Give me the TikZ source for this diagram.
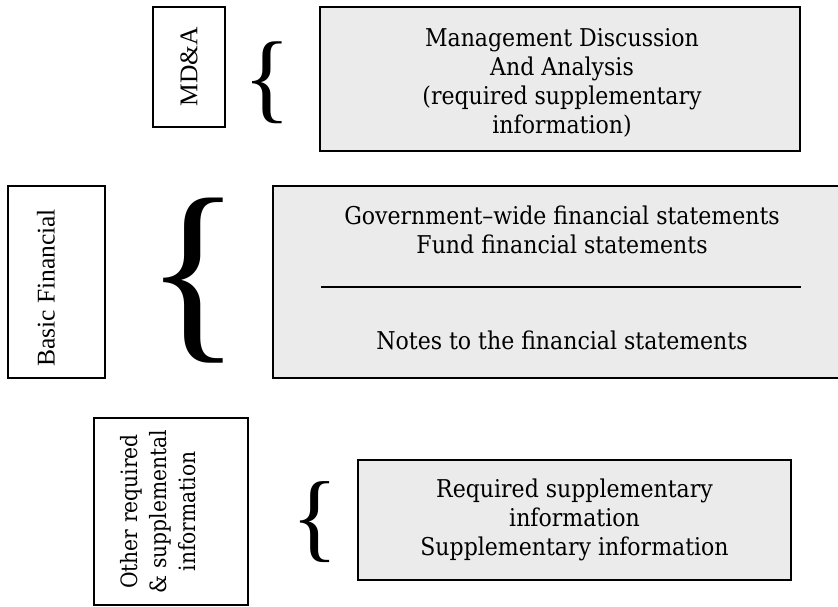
\documentclass[tikz,border=0pt]{standalone}
\usepackage{fontspec}
\setmainfont{DejaVu Serif Condensed}
\newfontfamily\timesfont{Liberation Serif}
\usepackage{xcolor}
\usepackage{graphicx}
\usetikzlibrary{positioning}
\definecolor{panelgray}{HTML}{EBEBEB}

\begin{document}
\begin{tikzpicture}[x=1pt, y=-1pt,
    tagbox/.style = {draw, line width=1.8pt, inner sep=0pt},
    panel/.style = {draw, line width=1.8pt, fill=panelgray, inner sep=0pt},
    tagtext/.style = {rotate=90, align=center, inner sep=0pt},
    timestext/.style = {font=\timesfont\fontsize{25.5}{29}\selectfont},
    paneltext/.style = {align=center, inner sep=0pt, font=\fontsize{24.5}{29}\selectfont},
    curly/.style = {inner sep=0pt}
  ]
    \useasboundingbox (0,0) rectangle (838,607);
    % top row
    \node (mda) [tagbox, minimum width=72pt, minimum height=120pt] at (189,67) {};
    \node (mdatag) [tagtext, timestext] at (mda.center) {MD\&A};
    \node (mdabrace) [curly] at (267.5,83) {\resizebox*{!}{82pt}{\timesfont\{}};
    \node (mdapanel) [panel, minimum width=480pt, minimum height=144pt] at (560,79) {};
    \node (mdatext) [paneltext] at (562,83) {Management Discussion\\And Analysis\\(required supplementary\\information)};
    % middle row
    \node (basic) [tagbox, minimum width=97pt, minimum height=192pt] at (56.5,282) {};
    \node (basictag) [tagtext, timestext] at (46,288) {Basic Financial};
    \node (basicbrace) [curly] at (193.5,280.5) {\resizebox*{!}{165pt}{\timesfont\{}};
    \node (basicpanel) [panel, minimum width=579pt, minimum height=192pt] at (562.5,282) {};
    \node (stmttext) [paneltext] at (562,230) {Government–wide financial statements\\Fund financial statements};
    \coordinate (ruleW) at (321,287);
    \coordinate (ruleE) at (801,287);
    \draw [line width=1.5pt] (ruleW) -- (ruleE);
    \node (notestext) [paneltext] at (562,340) {Notes to the financial statements};
    % bottom row
    \node (other) [tagbox, minimum width=154pt, minimum height=187pt] at (171,511.5) {};
    \node (othertag) [paneltext, tagtext, font=\fontsize{22.5}{29}\selectfont] at (158,511.5) {Other required\\\& supplemental\\information};
    \node (otherbrace) [curly] at (315,522.5) {\resizebox*{!}{81pt}{\timesfont\{}};
    \node (otherpanel) [panel, minimum width=433pt, minimum height=120pt] at (574.5,520) {};
    \node (othertext) [paneltext] at (otherpanel.center) {Required supplementary\\information\\Supplementary information};
\end{tikzpicture}
\end{document}
